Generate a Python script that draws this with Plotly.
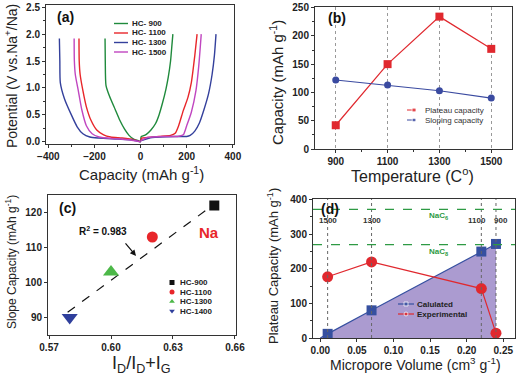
import plotly.graph_objects as go

W, H = 520, 375
def X(p): return p / W
def Y(p): return 1 - p / H

FONT = "Liberation Sans, Arial, sans-serif"

# ---------------- (a) charge/discharge profiles ----------------
hc900_dis_cap = [-154, -153, -150, -135, -110, -90, -70, -50, -30, -10, 0]
hc900_dis_v = [1.92, 1.5, 1.05, 0.85, 0.6, 0.4, 0.24, 0.12, 0.05, 0.02, 0.0]
hc900_chg_cap = [0, 3, 10, 25, 45, 65, 80, 95, 110, 120, 130, 136, 140]
hc900_chg_v = [0.02, 0.1, 0.11, 0.14, 0.22, 0.34, 0.5, 0.72, 0.98, 1.2, 1.5, 1.8, 2.0]

hc1100_dis_cap = [-267, -266, -262, -250, -235, -215, -190, -160, -130, -80, -30, 0]
hc1100_dis_v = [1.92, 1.5, 1.25, 0.95, 0.65, 0.4, 0.22, 0.13, 0.09, 0.07, 0.04, 0.0]
hc1100_chg_cap = [0, 5, 30, 80, 130, 150, 165, 185, 205, 220, 235, 245]
hc1100_chg_v = [0.02, 0.07, 0.08, 0.1, 0.12, 0.16, 0.3, 0.58, 0.82, 1.1, 1.6, 2.0]

hc1300_dis_cap = [-352, -350, -348, -330, -300, -275, -250, -220, -180, -100, -30, 0]
hc1300_dis_v = [1.92, 1.5, 1.1, 0.8, 0.5, 0.28, 0.15, 0.09, 0.07, 0.05, 0.03, 0.0]
hc1300_chg_cap = [0, 50, 150, 200, 215, 235, 255, 275, 295, 310, 320, 327]
hc1300_chg_v = [0.02, 0.08, 0.1, 0.1, 0.12, 0.2, 0.35, 0.6, 0.9, 1.25, 1.6, 2.0]

hc1500_dis_cap = [-288, -287, -283, -270, -255, -235, -210, -180, -120, -50, 0]
hc1500_dis_v = [1.92, 1.5, 1.25, 0.95, 0.6, 0.3, 0.15, 0.09, 0.06, 0.04, 0.0]
hc1500_chg_cap = [0, 30, 100, 160, 185, 200, 220, 240, 252, 263]
hc1500_chg_v = [0.02, 0.08, 0.1, 0.1, 0.13, 0.3, 0.55, 0.95, 1.4, 2.0]

a_names = ["HC- 900", "HC- 1100", "HC- 1300", "HC- 1500"]
a_colors = ["#1f8a3c", "#e8262a", "#34409c", "#c046c0"]

# ---------------- (b) capacity vs temperature ----------------
temps = [900, 1100, 1300, 1500]
plateau_cap = [42, 150, 234, 177]
sloping_cap = [122, 113, 103, 90]

# ---------------- (c) slope capacity vs ID/(ID+IG) ----------------
c_names = ["HC-900", "HC-1100", "HC-1300", "HC-1400"]
c_ratio = [0.65, 0.62, 0.60, 0.58]
c_slope = [122, 113, 103, 90]
c_colors = ["#111111", "#e8262a", "#4cb848", "#2f3f9c"]
c_symbols = ["square", "circle", "triangle-up", "triangle-down"]
c_sizes = [10, 11, 14, 14]
fit_x = [0.579, 0.650]
fit_y = [91.5, 122.4]

# ---------------- (d) plateau capacity vs micropore volume ----------------
vol = [0.01, 0.07, 0.22, 0.24]
vol_labels = ["1500", "1300", "1100", "900"]
calc_cap = [12, 80, 250, 272]
exp_cap = [177, 220, 143, 14]
fill_x = [0.0, 0.01, 0.07, 0.22, 0.24]
fill_y = [0, 12, 80, 250, 272]
nac_levels = [372, 270]
nac_labels = ["NaC<sub>6</sub>", "NaC<sub>8</sub>"]

fig = go.Figure()

# (a) traces
a_sets = [
    (hc900_dis_cap, hc900_dis_v, hc900_chg_cap, hc900_chg_v),
    (hc1100_dis_cap, hc1100_dis_v, hc1100_chg_cap, hc1100_chg_v),
    (hc1300_dis_cap, hc1300_dis_v, hc1300_chg_cap, hc1300_chg_v),
    (hc1500_dis_cap, hc1500_dis_v, hc1500_chg_cap, hc1500_chg_v),
]
for (dx, dy, cx, cy), name, col in zip(a_sets, a_names, a_colors):
    fig.add_trace(go.Scatter(x=list(dx) + [None] + list(cx), y=list(dy) + [None] + list(cy),
                             mode="lines", line=dict(color=col, width=1.4, shape="spline", smoothing=0.6),
                             name=name, showlegend=False, xaxis="x", yaxis="y"))

# (b) traces
fig.add_trace(go.Scatter(x=temps, y=plateau_cap, mode="lines+markers", name="Plateau capacity",
                         line=dict(color="#e0282e", width=1.2),
                         marker=dict(symbol="square", size=8, color="#e0282e"),
                         showlegend=False, xaxis="x2", yaxis="y2"))
fig.add_trace(go.Scatter(x=temps, y=sloping_cap, mode="lines+markers", name="Sloping capacity",
                         line=dict(color="#3a4aa0", width=1.2),
                         marker=dict(symbol="circle", size=7, color="#3a4aa0"),
                         showlegend=False, xaxis="x2", yaxis="y2"))

# (c) traces
fig.add_trace(go.Scatter(x=fit_x, y=fit_y, mode="lines", line=dict(color="#111111", width=1.2, dash="dash"),
                         showlegend=False, xaxis="x3", yaxis="y3"))
for n, xv, yv, col, sym, sz in zip(c_names, c_ratio, c_slope, c_colors, c_symbols, c_sizes):
    fig.add_trace(go.Scatter(x=[xv], y=[yv], mode="markers", name=n,
                             marker=dict(symbol=sym, size=sz, color=col),
                             showlegend=False, xaxis="x3", yaxis="y3"))

# (d) traces
fig.add_trace(go.Scatter(x=fill_x, y=fill_y, mode="lines", fill="tozeroy", fillcolor="#ab9bd0",
                         line=dict(color="#3650a0", width=1.2), showlegend=False, xaxis="x4", yaxis="y4"))
fig.add_trace(go.Scatter(x=vol, y=calc_cap, mode="markers", name="Calulated",
                         marker=dict(symbol="square", size=10, color="#3650a0"),
                         showlegend=False, xaxis="x4", yaxis="y4"))
fig.add_trace(go.Scatter(x=vol, y=exp_cap, mode="lines+markers", name="Experimental",
                         line=dict(color="#e0282e", width=1.2),
                         marker=dict(symbol="circle", size=11, color="#e0282e"),
                         showlegend=False, xaxis="x4", yaxis="y4"))

# ---------- hand-drawn legends on a full-figure pixel overlay axis ----------
ann = []
def legtext(x, y, t, size=8, bold=True, color="#222"):
    ann.append(dict(x=X(x), y=Y(y), xref="paper", yref="paper", text=(f"<b>{t}</b>" if bold else t),
                    showarrow=False, xanchor="left", yanchor="middle",
                    font=dict(family=FONT, size=size, color=color)))

a_rows = [23.5, 33, 42.5, 52]
for r, name, col in zip(a_rows, a_names, a_colors):
    fig.add_trace(go.Scatter(x=[114, 128], y=[r, r], mode="lines", line=dict(color=col, width=1.4),
                             showlegend=False, xaxis="x5", yaxis="y5", hoverinfo="skip"))
    legtext(130, r, name)

b_rows = [110, 120]
for r, name, col, sym in zip(b_rows, ["Plateau capacity", "Sloping capacity"],
                             ["#e0282e", "#3a4aa0"], ["square", "circle"]):
    fig.add_trace(go.Scatter(x=[407, 414, 421], y=[r, r, r], mode="lines+markers",
                             line=dict(color=col, width=1.0, dash="dash"),
                             marker=dict(symbol=sym, size=[0, 4, 0], color=col),
                             showlegend=False, xaxis="x5", yaxis="y5", hoverinfo="skip"))
    legtext(423, r, name, bold=False, color="#333")

c_rows = [282.5, 292, 301.5, 311]
for r, name, col, sym in zip(c_rows, c_names, c_colors, c_symbols):
    fig.add_trace(go.Scatter(x=[172], y=[r], mode="markers", marker=dict(symbol=sym, size=5, color=col),
                             showlegend=False, xaxis="x5", yaxis="y5", hoverinfo="skip"))
    legtext(178, r, name)

d_rows = [304, 314]
for r, name, col, sym in zip(d_rows, ["Calulated", "Experimental"], ["#3650a0", "#e0282e"], ["square", "circle"]):
    fig.add_trace(go.Scatter(x=[398, 406, 414], y=[r, r, r], mode="lines+markers",
                             line=dict(color=col, width=1.2),
                             marker=dict(symbol=sym, size=[0, 4, 0], color=col),
                             showlegend=False, xaxis="x5", yaxis="y5", hoverinfo="skip"))
    legtext(415, r, name)

# ---------- axes ----------
tickfont = dict(family=FONT, size=10, color="#222", weight="bold")
def ax(domain, rng, **kw):
    d = dict(domain=domain, range=rng, showline=True, linecolor="#333", linewidth=1, mirror=True,
             ticks="outside", ticklen=3, tickcolor="#333", tickfont=tickfont, showgrid=False,
             zeroline=False, automargin=False)
    d.update(kw)
    return d

shapes = []
# (d) dotted vertical lines
for v in vol:
    shapes.append(dict(type="line", xref="x4", yref="y4 domain", x0=v, x1=v, y0=0, y1=1,
                       line=dict(color="#666", width=1, dash="dot"), layer="above"))
for lv in nac_levels:
    shapes.append(dict(type="line", xref="x4 domain", yref="y4", x0=0, x1=1, y0=lv, y1=lv,
                       line=dict(color="#2e9a44", width=1.2, dash="dash"), layer="above"))

def centered(x, y, t, size, color="#222", rot=0):
    ann.append(dict(x=X(x), y=Y(y), xref="paper", yref="paper", text=t, showarrow=False, textangle=rot,
                    xanchor="center", yanchor="middle",
                    font=dict(family=FONT, size=size, color=color)))

# panel labels
for t, x, y in [("(a)", 65, 17), ("(b)", 337, 18), ("(c)", 67, 208), ("(d)", 330, 209)]:
    centered(x, y, f"<b>{t}</b>", 14, "#111")

# axis titles
centered(141, 173, "Capacity (mAh g<sup>-1</sup>)", 15)
centered(11, 76, "Potential (V vs.Na<sup>+</sup>/Na)", 14, rot=-90)
centered(412, 175, "Temperature (C<sup>o</sup>)", 16)
centered(276, 83, "Capacity (mAh g<sup>-1</sup>)", 15, rot=-90)
centered(141, 364, "I<sub>D</sub>/I<sub>D</sub>+I<sub>G</sub>", 18)
centered(11, 262, "Slope Capacity (mAh g<sup>-1</sup>)", 12, rot=-90)
centered(415, 364, "Micropore Volume (cm<sup>3</sup> g<sup>-1</sup>)", 14)
centered(273, 266, "Plateau Capacity (mAh g<sup>-1</sup>)", 13, rot=-90)

# (c) annotations
ann.append(dict(x=0.5963, y=114.8, xref="x3", yref="y3", text="<b>R<sup>2</sup> = 0.983</b>", showarrow=False,
                xanchor="center", yanchor="middle", font=dict(family=FONT, size=10, color="#111")))
ann.append(dict(x=0.6121, y=107.6, ax=0.6064, ay=111.6, xref="x3", yref="y3", axref="x3", ayref="y3",
                text="", showarrow=True, arrowhead=2, arrowsize=1, arrowwidth=1.2, arrowcolor="#111"))
ann.append(dict(x=0.6475, y=114.3, xref="x3", yref="y3", text="<b>Na</b>", showarrow=False,
                xanchor="center", yanchor="middle", font=dict(family=FONT, size=15, color="#e8262a")))

# (d) annotations
label_shift = [0, 0, -4, 5]
for v, lab, sh in zip(vol, vol_labels, label_shift):
    ann.append(dict(x=v, y=339, xref="x4", yref="y4", text=f"<b>{lab}</b>", showarrow=False, xshift=sh,
                    xanchor="center", yanchor="middle", font=dict(family=FONT, size=8, color="#333")))
for lv, lab in zip([352, 249], nac_labels):
    ann.append(dict(x=0.162, y=lv, xref="x4", yref="y4", text=f"<b>{lab}</b>", showarrow=False,
                    xanchor="center", yanchor="middle", font=dict(family=FONT, size=8, color="#2e9a44")))

fig.update_layout(
    width=W, height=H, margin=dict(l=0, r=0, t=0, b=0, autoexpand=False),
    paper_bgcolor="white", plot_bgcolor="rgba(0,0,0,0)", showlegend=False,
    font=dict(family=FONT),
    xaxis=ax([X(46), X(234)], [-410, 405], anchor="y", tickvals=[-400, -200, 0, 200, 400],
             minor=dict(ticks="outside", ticklen=2, dtick=100, tick0=0, tickcolor="#333")),
    yaxis=ax([Y(144), Y(5)], [-0.04, 2.54], anchor="x", dtick=0.5, tick0=0, tickformat=".1f",
             minor=dict(ticks="outside", ticklen=2, dtick=0.25, tick0=0, tickcolor="#333")),
    xaxis2=ax([X(315), X(512)], [820, 1580], anchor="y2", tickvals=temps, showgrid=True,
              gridcolor="#999", griddash="dot", gridwidth=1,
              minor=dict(ticks="outside", ticklen=2, dtick=100, tick0=900, tickcolor="#333", showgrid=False)),
    yaxis2=ax([Y(149), Y(7)], [0, 251], anchor="x2", dtick=50, tick0=0,
              minor=dict(ticks="outside", ticklen=2, dtick=25, tick0=0, tickcolor="#333")),
    xaxis3=ax([X(48), X(236)], [0.5695, 0.6605], anchor="y3", tickvals=[0.57, 0.60, 0.63, 0.66],
              tickformat=".2f"),
    yaxis3=ax([Y(335), Y(195)], [85, 125], anchor="x3", tickvals=[90, 100, 110, 120]),
    xaxis4=ax([X(313), X(515)], [-0.01, 0.266], anchor="y4", dtick=0.05, tick0=0, tickformat=".2f"),
    yaxis4=ax([Y(338), Y(199)], [0, 402], anchor="x4", dtick=100, tick0=0,
              minor=dict(ticks="outside", ticklen=2, dtick=50, tick0=0, tickcolor="#333")),
    xaxis5=dict(domain=[0, 1], range=[0, W], visible=False, anchor="y5", fixedrange=True),
    yaxis5=dict(domain=[0, 1], range=[H, 0], visible=False, anchor="x5", fixedrange=True),
    shapes=shapes, annotations=ann,
)

fig.write_html("out.html", config={"displayModeBar": False},
               post_script="document.body.style.margin='0px';document.body.style.padding='0px';")
